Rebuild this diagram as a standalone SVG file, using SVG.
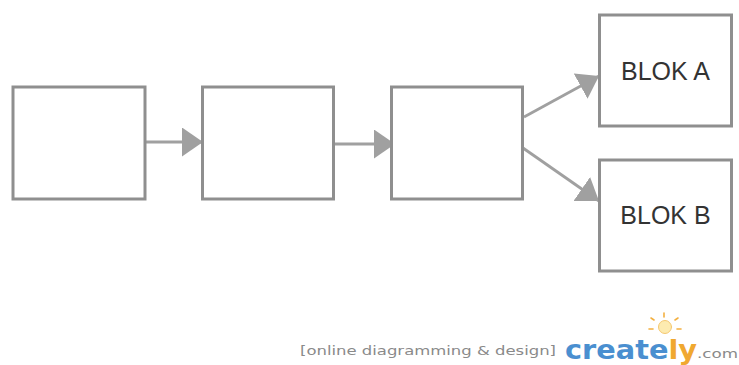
<svg xmlns="http://www.w3.org/2000/svg" width="739" height="365" viewBox="0 0 739 365">
  <style>
    .box { fill: #ffffff; stroke: #8f8f8f; stroke-width: 3; }
    .conn { fill: none; stroke: #a0a0a0; stroke-width: 2.8; }
    .label { font-family: "Liberation Sans", Arial, sans-serif; font-size: 25px; fill: #333333; text-anchor: middle; }
    .foot { font-family: "DejaVu Sans", Verdana, sans-serif; fill: #8a8a8a; }
  </style>
  <defs>
    <marker id="arrow" markerUnits="userSpaceOnUse" markerWidth="21" markerHeight="29" viewBox="0 0 21 29" refX="21" refY="14.5" orient="auto">
      <path d="M0,0 L21,14.5 L0,29 Z" fill="#a0a0a0"/>
    </marker>
  </defs>
  <rect width="739" height="365" fill="#ffffff"/>

  <g id="connectors">
    <line class="conn" x1="146" y1="142" x2="203" y2="142" marker-end="url(#arrow)"/>
    <line class="conn" x1="334" y1="144" x2="395" y2="144" marker-end="url(#arrow)"/>
    <line class="conn" x1="524" y1="117" x2="599" y2="76" marker-end="url(#arrow)"/>
    <line class="conn" x1="523" y1="148" x2="599" y2="201" marker-end="url(#arrow)"/>
  </g>

  <g id="node1">
    <rect class="box" x="13" y="87" width="132" height="112"/>
  </g>
  <g id="node2">
    <rect class="box" x="202.5" y="87" width="131" height="112"/>
  </g>
  <g id="node3">
    <rect class="box" x="391.5" y="87" width="131" height="112"/>
  </g>
  <g id="blokA">
    <rect class="box" x="599.5" y="15" width="132" height="111"/>
    <text class="label" x="665.5" y="80">BLOK A</text>
  </g>
  <g id="blokB">
    <rect class="box" x="599.5" y="160" width="132" height="111"/>
    <text class="label" x="665.5" y="224">BLOK B</text>
  </g>

  <g id="footer">
    <text class="foot" x="300" y="355" font-size="13" textLength="256" lengthAdjust="spacingAndGlyphs">[online diagramming &amp; design]</text>
    <text x="565" y="359" font-family="DejaVu Sans, Verdana, sans-serif" font-size="27" font-weight="600" fill="#4a8fd0" textLength="132" lengthAdjust="spacingAndGlyphs">create<tspan fill="#f0a830">ly</tspan></text>
    <text class="foot" x="697" y="358" font-size="13" textLength="41" lengthAdjust="spacingAndGlyphs">.com</text>
    <g id="bulb" stroke="#f3b040" stroke-width="1.6" stroke-linecap="round">
      <circle cx="665" cy="327" r="6.5" fill="#fdebb0" stroke="#f5c870" stroke-width="1"/>
      <line x1="664" y1="313" x2="664" y2="317"/>
      <line x1="651" y1="318" x2="654" y2="320"/>
      <line x1="678" y1="318" x2="675" y2="320"/>
      <line x1="649" y1="329" x2="653" y2="329"/>
      <line x1="677" y1="329" x2="681" y2="329"/>
    </g>
  </g>
</svg>
